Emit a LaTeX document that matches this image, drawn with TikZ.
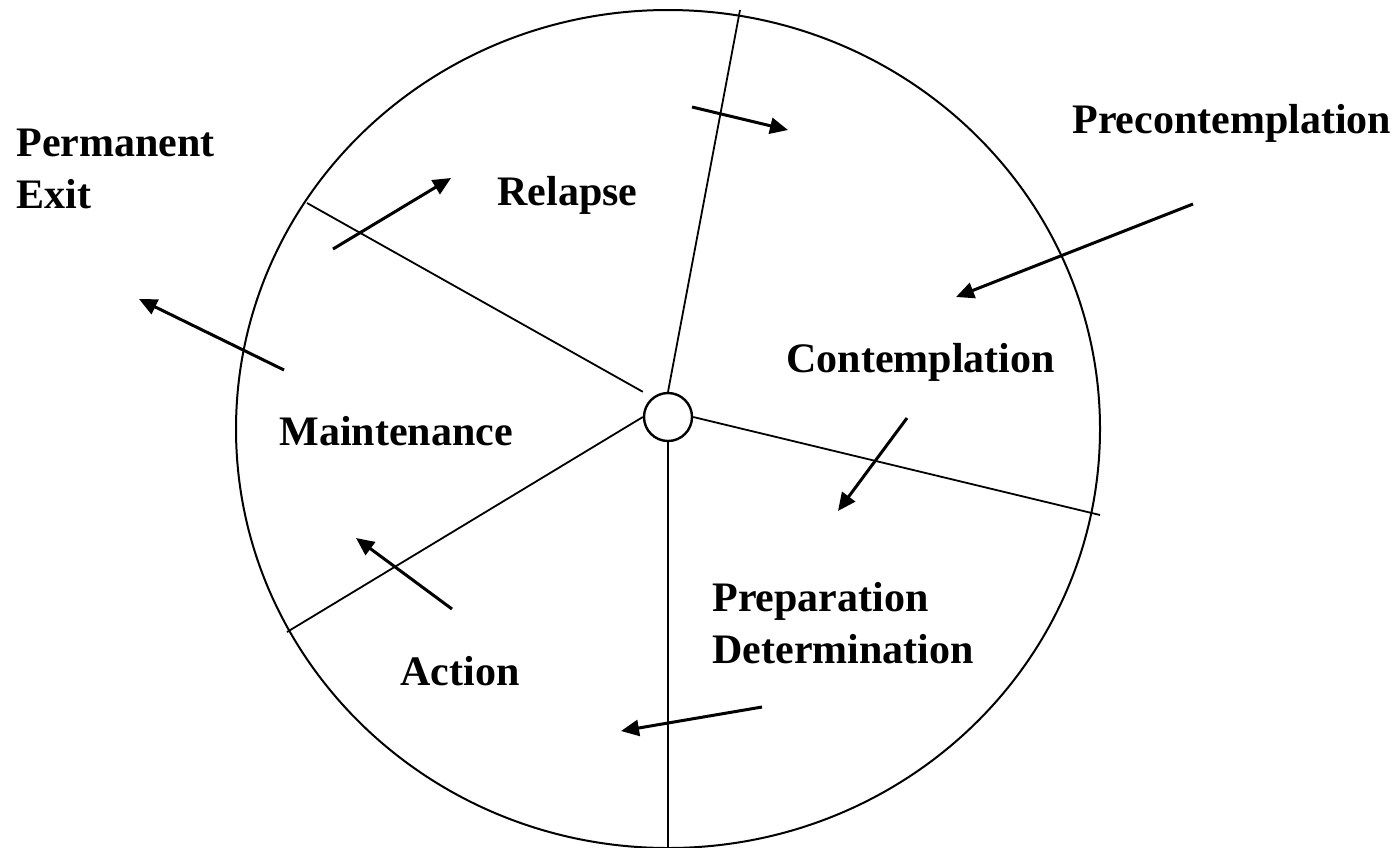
\documentclass[tikz,border=0pt]{standalone}
\usepackage{fontspec}
\setmainfont{Liberation Serif}
\usepackage{tikz}
\usetikzlibrary{arrows.meta,positioning,calc}

\begin{document}
\begin{tikzpicture}[
  x=0.5pt,y=-0.5pt,
  every node/.style={font=\fontsize{21}{26}\selectfont\bfseries},
  stage/.style={anchor=base west,inner sep=0pt,align=left},
  hubnode/.style={draw,circle,line width=1.2pt,minimum size=24pt,inner sep=0pt},
  spoke/.style={line width=0.9pt},
  arr/.style={-{Triangle[length=9pt,width=8pt]},line width=1.5pt},
]
  \useasboundingbox (0,0) rectangle (1400,847);
  \clip (0,0) rectangle (1400,847);

  % Wheel and hub
  \coordinate (mid) at (668,429);
  \draw[line width=1pt] (mid) ellipse [x radius=432,y radius=419];
  \node[hubnode] (hub) at (668,417) {};

  % Spokes
  \coordinate (sp-top) at (740,10);
  \coordinate (sp-right) at (1100,515);
  \coordinate (sp-bottom) at (668,850);
  \coordinate (sp-lowleft) at (287,632);
  \coordinate (sp-upleft) at (307,203);
  \draw[spoke] (hub.north) -- (sp-top);
  \draw[spoke] (hub.east) -- (sp-right);
  \draw[spoke] (hub.south) -- (sp-bottom);
  \draw[spoke] (hub.west) -- (sp-lowleft);
  \draw[spoke] (hub.west |- hub.north) -- (sp-upleft);

  % Stage labels
  \node[stage] (pre) at (1072,133) {Precontemplation};
  \node[stage] (con) at (786,372) {Contemplation};
  \node[stage] (prep) at (712,663) {Preparation\\Determination};
  \node[stage] (act) at (400,685) {Action};
  \node[stage] (main) at (279,445) {Maintenance};
  \node[stage] (rel) at (497,205) {Relapse};
  \node[stage] (exit) at (16,208) {Permanent\\Exit};

  % Arrows
  \coordinate (a1s) at (692,107);  \coordinate (a1e) at (788,130);
  \coordinate (a2s) at (1193,204); \coordinate (a2e) at (956,297);
  \coordinate (a3s) at (907,418);  \coordinate (a3e) at (838,511);
  \coordinate (a4s) at (762,707);  \coordinate (a4e) at (621,731);
  \coordinate (a5s) at (452,609);  \coordinate (a5e) at (356,538);
  \coordinate (a6s) at (284,370);  \coordinate (a6e) at (139,299);
  \coordinate (a7s) at (333,249);  \coordinate (a7e) at (451,178);
  \draw[arr] (a1s) -- (a1e);
  \draw[arr] (a2s) -- (a2e);
  \draw[arr] (a3s) -- (a3e);
  \draw[arr] (a4s) -- (a4e);
  \draw[arr] (a5s) -- (a5e);
  \draw[arr] (a6s) -- (a6e);
  \draw[arr] (a7s) -- (a7e);
\end{tikzpicture}
\end{document}
